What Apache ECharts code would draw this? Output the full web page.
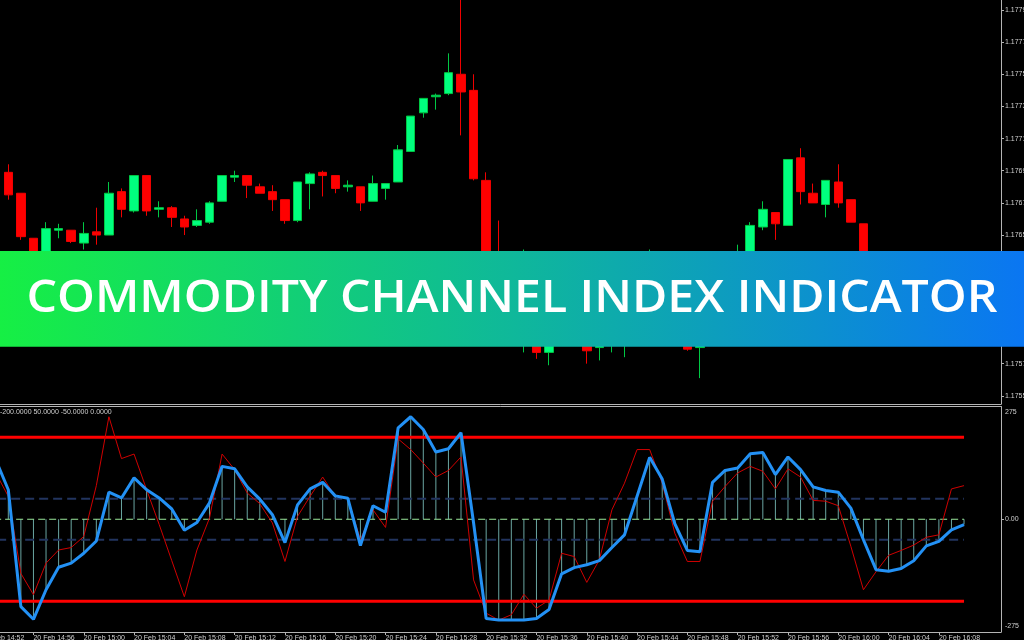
<!DOCTYPE html>
<html><head><meta charset="utf-8">
<script src="https://cdn.jsdelivr.net/npm/echarts@6/dist/echarts.min.js"></script>
<style>html,body{margin:0;padding:0;background:#000;overflow:hidden}#c{width:1024px;height:640px}</style>
</head><body><div id="c"></div><script>
// one bar per minute, bar index 0 = 20 Feb 14:54
const candleOpen  = [1.17689,1.17676,1.17648,1.17637,1.17653,1.17653,1.17645,1.17652,1.17650,1.17677,1.17665,1.17687,1.17666,1.17667,1.17660,1.17656,1.17658,1.17671,1.17686,1.17687,1.17680,1.17677,1.17672,1.17659,1.17682,1.17689,1.17687,1.17680,1.17680,1.17671,1.17679,1.17683,1.17702,1.17726,1.17736,1.17738,1.17750,1.17740,1.17684,1.17628,1.17603,1.17591,1.17594,1.17577,1.17588,1.17596,1.17592,1.17580,1.17585,1.17588,1.17596,1.17610,1.17621,1.17613,1.17591,1.17580,1.17591,1.17610,1.17623,1.17633,1.17655,1.17664,1.17656,1.17698,1.17676,1.17669,1.17683,1.17672,1.17657,1.17630,1.17610,1.17600,1.17606,1.17602,1.17610,1.17612,1.17610];
const candleClose = [1.17675,1.17649,1.17636,1.17654,1.17654,1.17646,1.17651,1.17650,1.17676,1.17666,1.17687,1.17665,1.17667,1.17661,1.17655,1.17659,1.17670,1.17687,1.17687,1.17681,1.17676,1.17672,1.17659,1.17683,1.17688,1.17687,1.17679,1.17681,1.17670,1.17682,1.17682,1.17703,1.17724,1.17735,1.17737,1.17751,1.17739,1.17685,1.17619,1.17610,1.17616,1.17610,1.17577,1.17591,1.17597,1.17591,1.17578,1.17588,1.17594,1.17597,1.17606,1.17622,1.17613,1.17591,1.17579,1.17591,1.17610,1.17625,1.17634,1.17656,1.17666,1.17657,1.17697,1.17677,1.17670,1.17684,1.17670,1.17658,1.17628,1.17610,1.17600,1.17606,1.17602,1.17610,1.17613,1.17610,1.17616];
const candleLow   = [1.17672,1.17647,1.17633,1.17636,1.17648,1.17645,1.17641,1.17644,1.17650,1.17661,1.17664,1.17662,1.17661,1.17655,1.17650,1.17655,1.17657,1.17671,1.17683,1.17673,1.17676,1.17665,1.17657,1.17658,1.17666,1.17674,1.17676,1.17677,1.17665,1.17671,1.17672,1.17683,1.17702,1.17723,1.17728,1.17737,1.17712,1.17684,1.17616,1.17606,1.17597,1.17577,1.17573,1.17569,1.17585,1.17586,1.17570,1.17572,1.17577,1.17574,1.17591,1.17606,1.17610,1.17585,1.17578,1.17561,1.17588,1.17606,1.17621,1.17631,1.17653,1.17647,1.17656,1.17669,1.17670,1.17661,1.17667,1.17658,1.17625,1.17606,1.17596,1.17597,1.17598,1.17600,1.17606,1.17606,1.17608];
const candleHigh  = [1.17694,1.17676,1.17648,1.17658,1.17657,1.17653,1.17658,1.17667,1.17683,1.17679,1.17687,1.17687,1.17671,1.17668,1.17662,1.17666,1.17671,1.17687,1.17690,1.17687,1.17682,1.17681,1.17672,1.17683,1.17689,1.17690,1.17687,1.17684,1.17680,1.17687,1.17682,1.17706,1.17724,1.17735,1.17738,1.17763,1.17799,1.17750,1.17689,1.17659,1.17622,1.17641,1.17600,1.17594,1.17602,1.17600,1.17594,1.17591,1.17597,1.17600,1.17610,1.17641,1.17628,1.17616,1.17594,1.17594,1.17613,1.17631,1.17644,1.17658,1.17671,1.17664,1.17697,1.17704,1.17682,1.17684,1.17694,1.17672,1.17657,1.17633,1.17616,1.17611,1.17610,1.17613,1.17617,1.17619,1.17621];

// CCI values, first value belongs to bar index -1 (14:53)
const cciFirstBar = -1;
const cciMain = [145,72,-213,-244,-172,-117,-107,-83,-53,66,52,101,72,52,25,-27,-8,40,129,123,79,49,11,-57,35,74,90,57,51,-64,33,17,223,250,219,164,172,211,-9,-242,-246,-246,-246,-242,-220,-133,-118,-111,-101,-69,-38,56,151,98,-11,-76,-79,90,119,125,160,163,109,152,121,79,70,66,27,-50,-123,-127,-120,-101,-65,-54,-26,-13];
const cciFast = [113,56,-132,-184,-107,-75,-69,-42,82,250,148,159,72,-13,-101,-189,-75,3,159,121,64,38,-9,-103,7,56,103,56,51,-50,23,-20,196,170,137,103,119,152,-148,-229,-246,-233,-183,-217,-197,-83,-91,-154,-99,23,88,170,170,88,-34,-103,-103,44,80,113,129,117,74,123,103,46,44,33,-66,-172,-128,-88,-76,-63,-44,-38,74,82];

const levelsOuter = [200, -200];
const levelsInner = [50, -50];
const levelZero = [0];
const levelCaption = [-200, 50, -50, 0];

const priceTicks = [1.1779,1.1777,1.1775,1.1773,1.1771,1.1769,1.1767,1.1765,1.1763,1.1761,1.1759,1.1757,1.1755];
const cciTicks = [275, 0, -275];
const timeTickBars = [-2,2,6,10,14,18,22,26,30,34,38,42,46,50,54,58,62,66,70,74];
const timeTickLabels = ['20 Feb 14:52','20 Feb 14:56','20 Feb 15:00','20 Feb 15:04','20 Feb 15:08','20 Feb 15:12','20 Feb 15:16','20 Feb 15:20','20 Feb 15:24','20 Feb 15:28','20 Feb 15:32','20 Feb 15:36','20 Feb 15:40','20 Feb 15:44','20 Feb 15:48','20 Feb 15:52','20 Feb 15:56','20 Feb 16:00','20 Feb 16:04','20 Feb 16:08'];
const bannerTitle = 'COMMODITY CHANNEL INDEX INDICATOR';

// ---------- build ----------
const candles = candleOpen.map((o, i) => [i, o, candleClose[i], candleLow[i], candleHigh[i]]);
const cciMainData = cciMain.map((v, i) => [i + cciFirstBar, v]);
const cciFastData = cciFast.map((v, i) => [i + cciFirstBar, v]);
const xMin = -2, xMax = 78.94;
const lastBar = candleOpen.length - 1;
const levelLine = (v, color, width, type) => ({
  type: 'line', xAxisIndex: 1, yAxisIndex: 1, symbol: 'none', silent: true,
  data: [[xMin, v], [lastBar, v]],
  lineStyle: { color, width, type }
});

const axisGrey = '#b4b4b4', labelGrey = '#cfcfcf', tickFont = 'Liberation Sans';

const bannerFont = '600 46px "Open Sans"';
const mctx = document.createElement('canvas').getContext('2d');
mctx.font = bannerFont;
const bannerScale = 971 / mctx.measureText(bannerTitle).width;

const chart = echarts.init(document.getElementById('c'), null, { renderer: 'canvas', width: 1024, height: 640 });
chart.setOption({
  backgroundColor: '#000',
  animation: false,
  title: {
    text: levelCaption.map(v => v.toFixed(4)).join(' '),
    left: 0, top: 409, padding: 0,
    textStyle: { fontSize: 7, fontWeight: 'normal', color: labelGrey, fontFamily: tickFont }
  },
  grid: [
    { left: -16.85, right: 23, top: 0, height: 404, containLabel: false, outerBoundsMode: 'none' },
    { left: -16.85, right: 23, top: 406.5, height: 225.5, containLabel: false, outerBoundsMode: 'none' }
  ],
  xAxis: [
    { gridIndex: 0, type: 'value', min: xMin, max: xMax,
      axisLine: { show: true, onZero: false, lineStyle: { color: axisGrey } },
      axisTick: { show: false }, axisLabel: { show: false }, splitLine: { show: false } },
    { gridIndex: 1, type: 'value', position: 'bottom', min: xMin, max: xMax,
      axisLine: { show: true, onZero: false, lineStyle: { color: axisGrey } },
      axisTick: { show: true, customValues: timeTickBars, length: 3, lineStyle: { color: axisGrey } },
      axisLabel: { customValues: timeTickBars, formatter: v => timeTickLabels[timeTickBars.indexOf(v)] || '',
        align: 'left', margin: 3, fontSize: 7, color: labelGrey, fontFamily: tickFont },
      splitLine: { show: false } },
    { gridIndex: 1, type: 'value', position: 'top', min: xMin, max: xMax,
      axisLine: { show: true, onZero: false, lineStyle: { color: axisGrey } },
      axisTick: { show: false }, axisLabel: { show: false }, splitLine: { show: false } }
  ],
  yAxis: [
    { gridIndex: 0, type: 'value', position: 'right', min: 1.175449, max: 1.177962,
      axisLine: { show: true, onZero: false, lineStyle: { color: axisGrey } },
      axisTick: { show: true, customValues: priceTicks, length: 3, lineStyle: { color: axisGrey } },
      axisLabel: { customValues: priceTicks, formatter: v => v.toFixed(5), margin: 4, fontSize: 7, color: labelGrey, fontFamily: tickFont },
      splitLine: { show: false } },
    { gridIndex: 1, type: 'value', position: 'right', min: -275, max: 275,
      axisLine: { show: true, onZero: false, lineStyle: { color: axisGrey } },
      axisTick: { show: true, customValues: [0], length: 3, lineStyle: { color: axisGrey } },
      axisLabel: { customValues: cciTicks,
        formatter: v => v > 0 ? '{top|' + v + '}' : v < 0 ? '{bot|' + v + '}' : '{mid|0.00}',
        margin: 4, fontSize: 7, color: labelGrey, fontFamily: tickFont,
        rich: {
          top: { fontSize: 7, color: labelGrey, fontFamily: tickFont, padding: [11, 0, 0, 0] },
          bot: { fontSize: 7, color: labelGrey, fontFamily: tickFont, padding: [0, 0, 11, 0] },
          mid: { fontSize: 7, color: labelGrey, fontFamily: tickFont }
        } },
      splitLine: { show: false } }
  ],
  graphic: [
    { type: 'rect', z: 100, silent: true, shape: { x: 0, y: 251, width: 1024, height: 95.7 },
      style: { fill: new echarts.graphic.LinearGradient(0, 0, 1, 0, [
        { offset: 0, color: '#16ef44' }, { offset: 0.5, color: '#0fb89a' }, { offset: 1, color: '#0a76f2' }]) } },
    { type: 'text', z: 101, silent: true, x: 512, y: 299, scaleX: bannerScale,
      style: { text: bannerTitle, font: bannerFont, fill: '#ffffff', textAlign: 'center', textVerticalAlign: 'middle' } }
  ],
  series: [
    { type: 'candlestick', xAxisIndex: 0, yAxisIndex: 0, data: candles,
      encode: { x: 0, y: [1, 2, 3, 4] }, barWidth: 9,
      itemStyle: { color: '#00ff7f', color0: '#ff0000', borderColor: '#00c844', borderColor0: '#f00000', borderWidth: 1 } },
    levelLine(levelZero[0], '#9be89b', 1, [7, 4]),
    levelLine(levelsInner[0], '#22345f', 2, [9, 5]),
    levelLine(levelsInner[1], '#22345f', 2, [9, 5]),
    levelLine(levelsOuter[0], '#ff0000', 3, 'solid'),
    levelLine(levelsOuter[1], '#ff0000', 3, 'solid'),
    { type: 'bar', xAxisIndex: 1, yAxisIndex: 1, data: cciMainData, barWidth: 1, silent: true,
      itemStyle: { color: '#6aa6a2' } },
    { type: 'line', xAxisIndex: 1, yAxisIndex: 1, data: cciFastData, symbol: 'none', silent: true,
      lineStyle: { color: '#d00000', width: 1 } },
    { type: 'line', xAxisIndex: 1, yAxisIndex: 1, data: cciMainData, symbol: 'none', silent: true,
      lineStyle: { color: '#2391f5', width: 3 } }
  ]
});
</script></body></html>
